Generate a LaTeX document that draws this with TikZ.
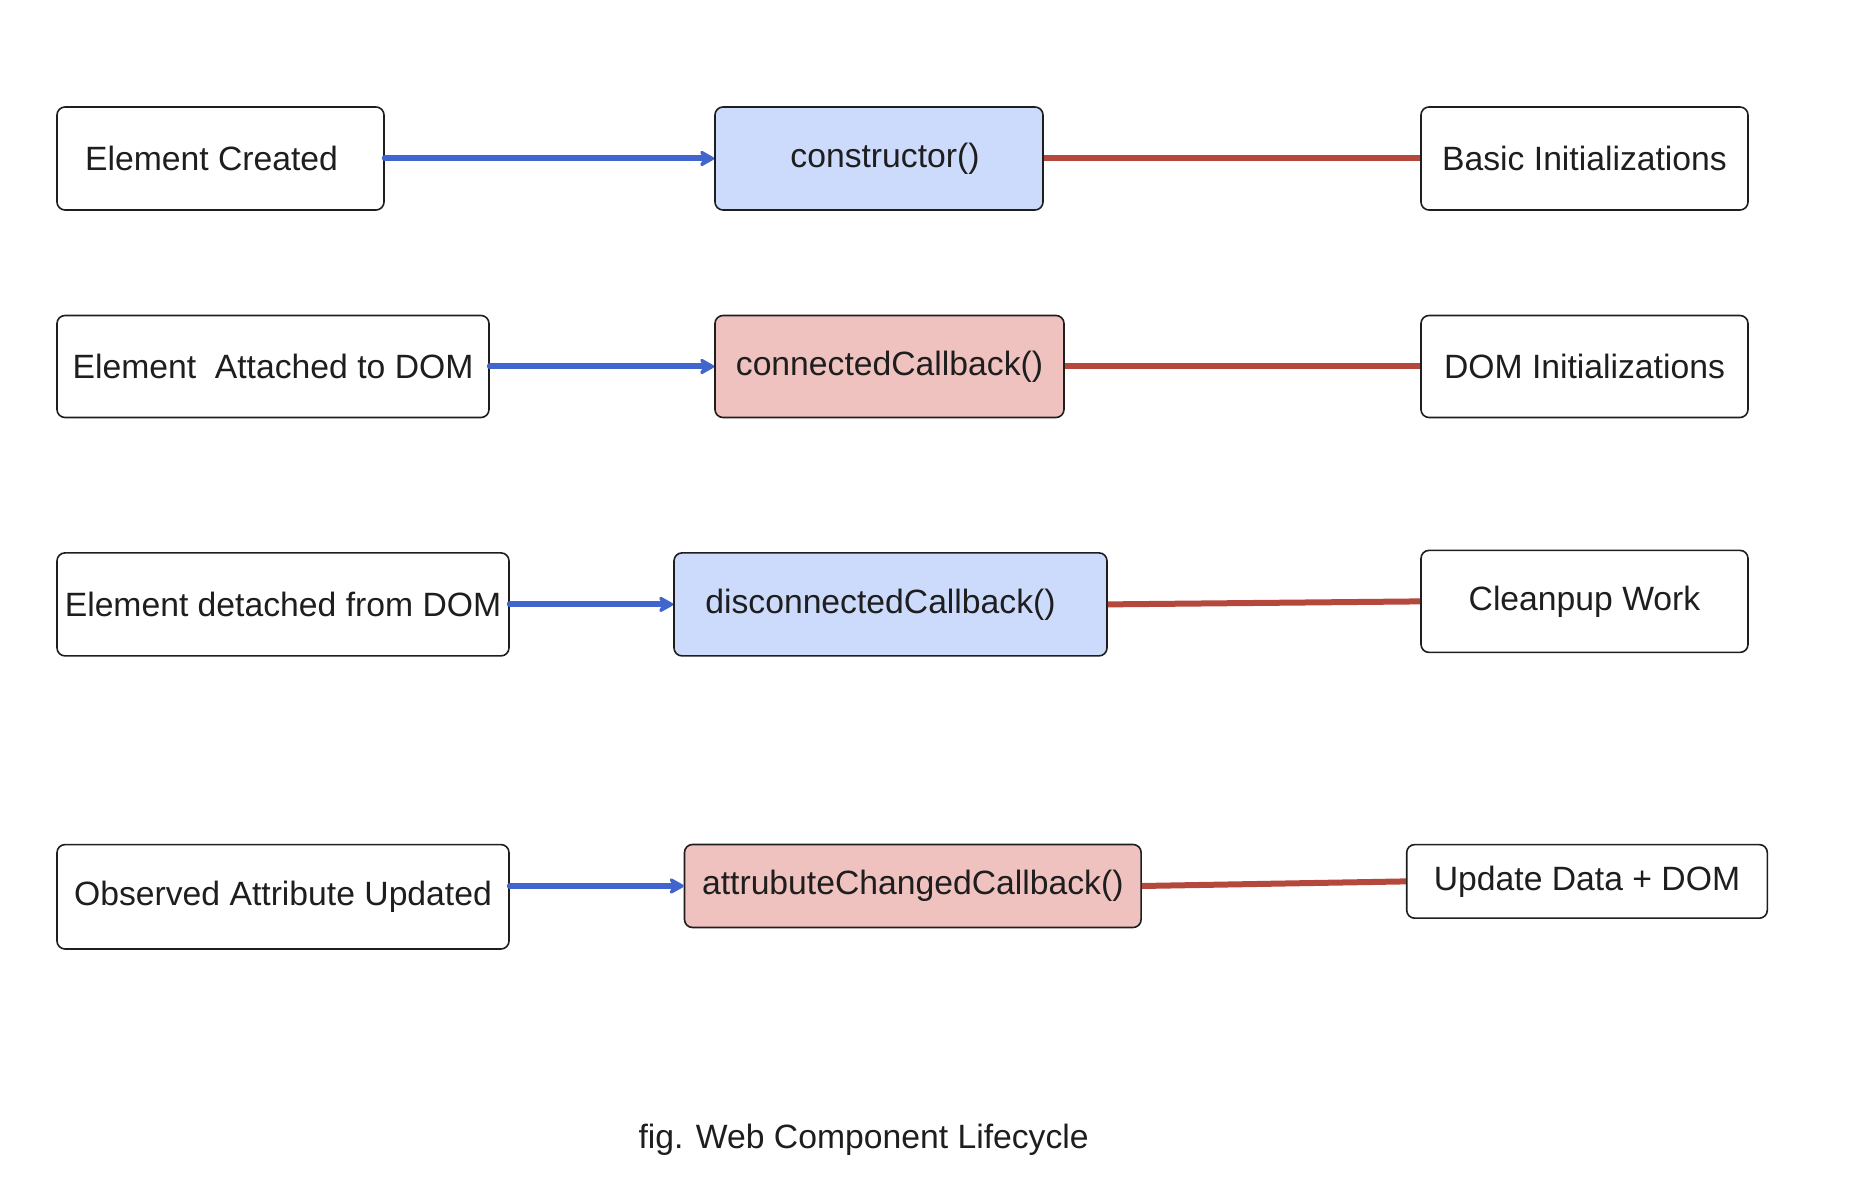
\documentclass[tikz,border=0pt]{standalone}
\usepackage{fontspec}
\setmainfont{Liberation Sans}
\usetikzlibrary{arrows.meta}
\definecolor{boxline}{HTML}{1E1E1E}
\definecolor{lblue}{HTML}{CCDAFB}
\definecolor{lpink}{HTML}{EFC2BF}
\definecolor{arrblue}{HTML}{4065CC}
\definecolor{linered}{HTML}{B4483C}
\begin{document}
\begin{tikzpicture}[x=0.5pt,y=-0.5pt,
  box/.style={draw=boxline,line width=0.8pt,rounded corners=4pt,inner sep=0pt,
    font=\fontsize{16.85}{20}\selectfont,text=boxline},
  bluebox/.style={box,fill=lblue},
  pinkbox/.style={box,fill=lpink},
  flow/.style={draw=arrblue,line width=3pt,line cap=round,-{Stealth[length=9pt,width=10pt,round]}},
  link/.style={draw=linered,line width=3pt}]
\useasboundingbox (0,0) rectangle (1860,1197);
% row 1
\node[box,minimum width=163.5pt,minimum height=51.5pt] (l1) at (220.5,158.5) {\hspace*{-9pt}Element Created};
\node[bluebox,minimum width=164pt,minimum height=51.5pt] (m1) at (879,158.5) {\hspace*{6pt}constructor()};
\node[box,minimum width=163.5pt,minimum height=51.5pt] (r1) at (1584.5,158.5) {Basic Initializations};
% row 2
\node[box,minimum width=216pt,minimum height=51pt] (l2) at (273,366.5) {Element\ \ Attached to DOM};
\node[pinkbox,minimum width=174.5pt,minimum height=51pt] (m2) at (889.5,366.5) {connectedCallback()};
\node[box,minimum width=163.5pt,minimum height=51pt] (r2) at (1584.5,366.5) {DOM Initializations};
% row 3
\node[box,minimum width=226pt,minimum height=51.5pt] (l3) at (283,604.4) {Element detached from DOM};
\node[bluebox,minimum width=216.5pt,minimum height=51.5pt] (m3) at (890.5,604.4) {\hspace*{-10pt}disconnectedCallback()};
\node[box,minimum width=163.5pt,minimum height=51pt] (r3) at (1584.5,601.4) {Cleanpup Work};
% row 4
\node[box,minimum width=226pt,minimum height=52.2pt] (l4) at (283,896.8) {Observed Attribute Updated};
\node[pinkbox,minimum width=228.3pt,minimum height=41.5pt] (m4) at (912.8,886) {attrubuteChangedCallback()};
\node[box,minimum width=180.3pt,minimum height=36.8pt] (r4) at (1587,881.4) {Update Data + DOM};
% caption
\node[font=\fontsize{16.85}{20}\selectfont,text=boxline] (cap) at (863.6,1140) {fig. Web Component Lifecycle};
% connectors
\draw[flow] (l1.east) -- (m1.west);
\draw[link] (m1.east) -- (r1.west);
\draw[flow] (l2.east) -- (m2.west);
\draw[link] (m2.east) -- (r2.west);
\draw[flow] (l3.east) -- (m3.west);
\draw[link] (m3.east) -- (r3.west);
\draw[flow] (l4.east |- m4.west) -- (m4.west);
\draw[link] (m4.east) -- (r4.west);
\end{tikzpicture}
\end{document}
